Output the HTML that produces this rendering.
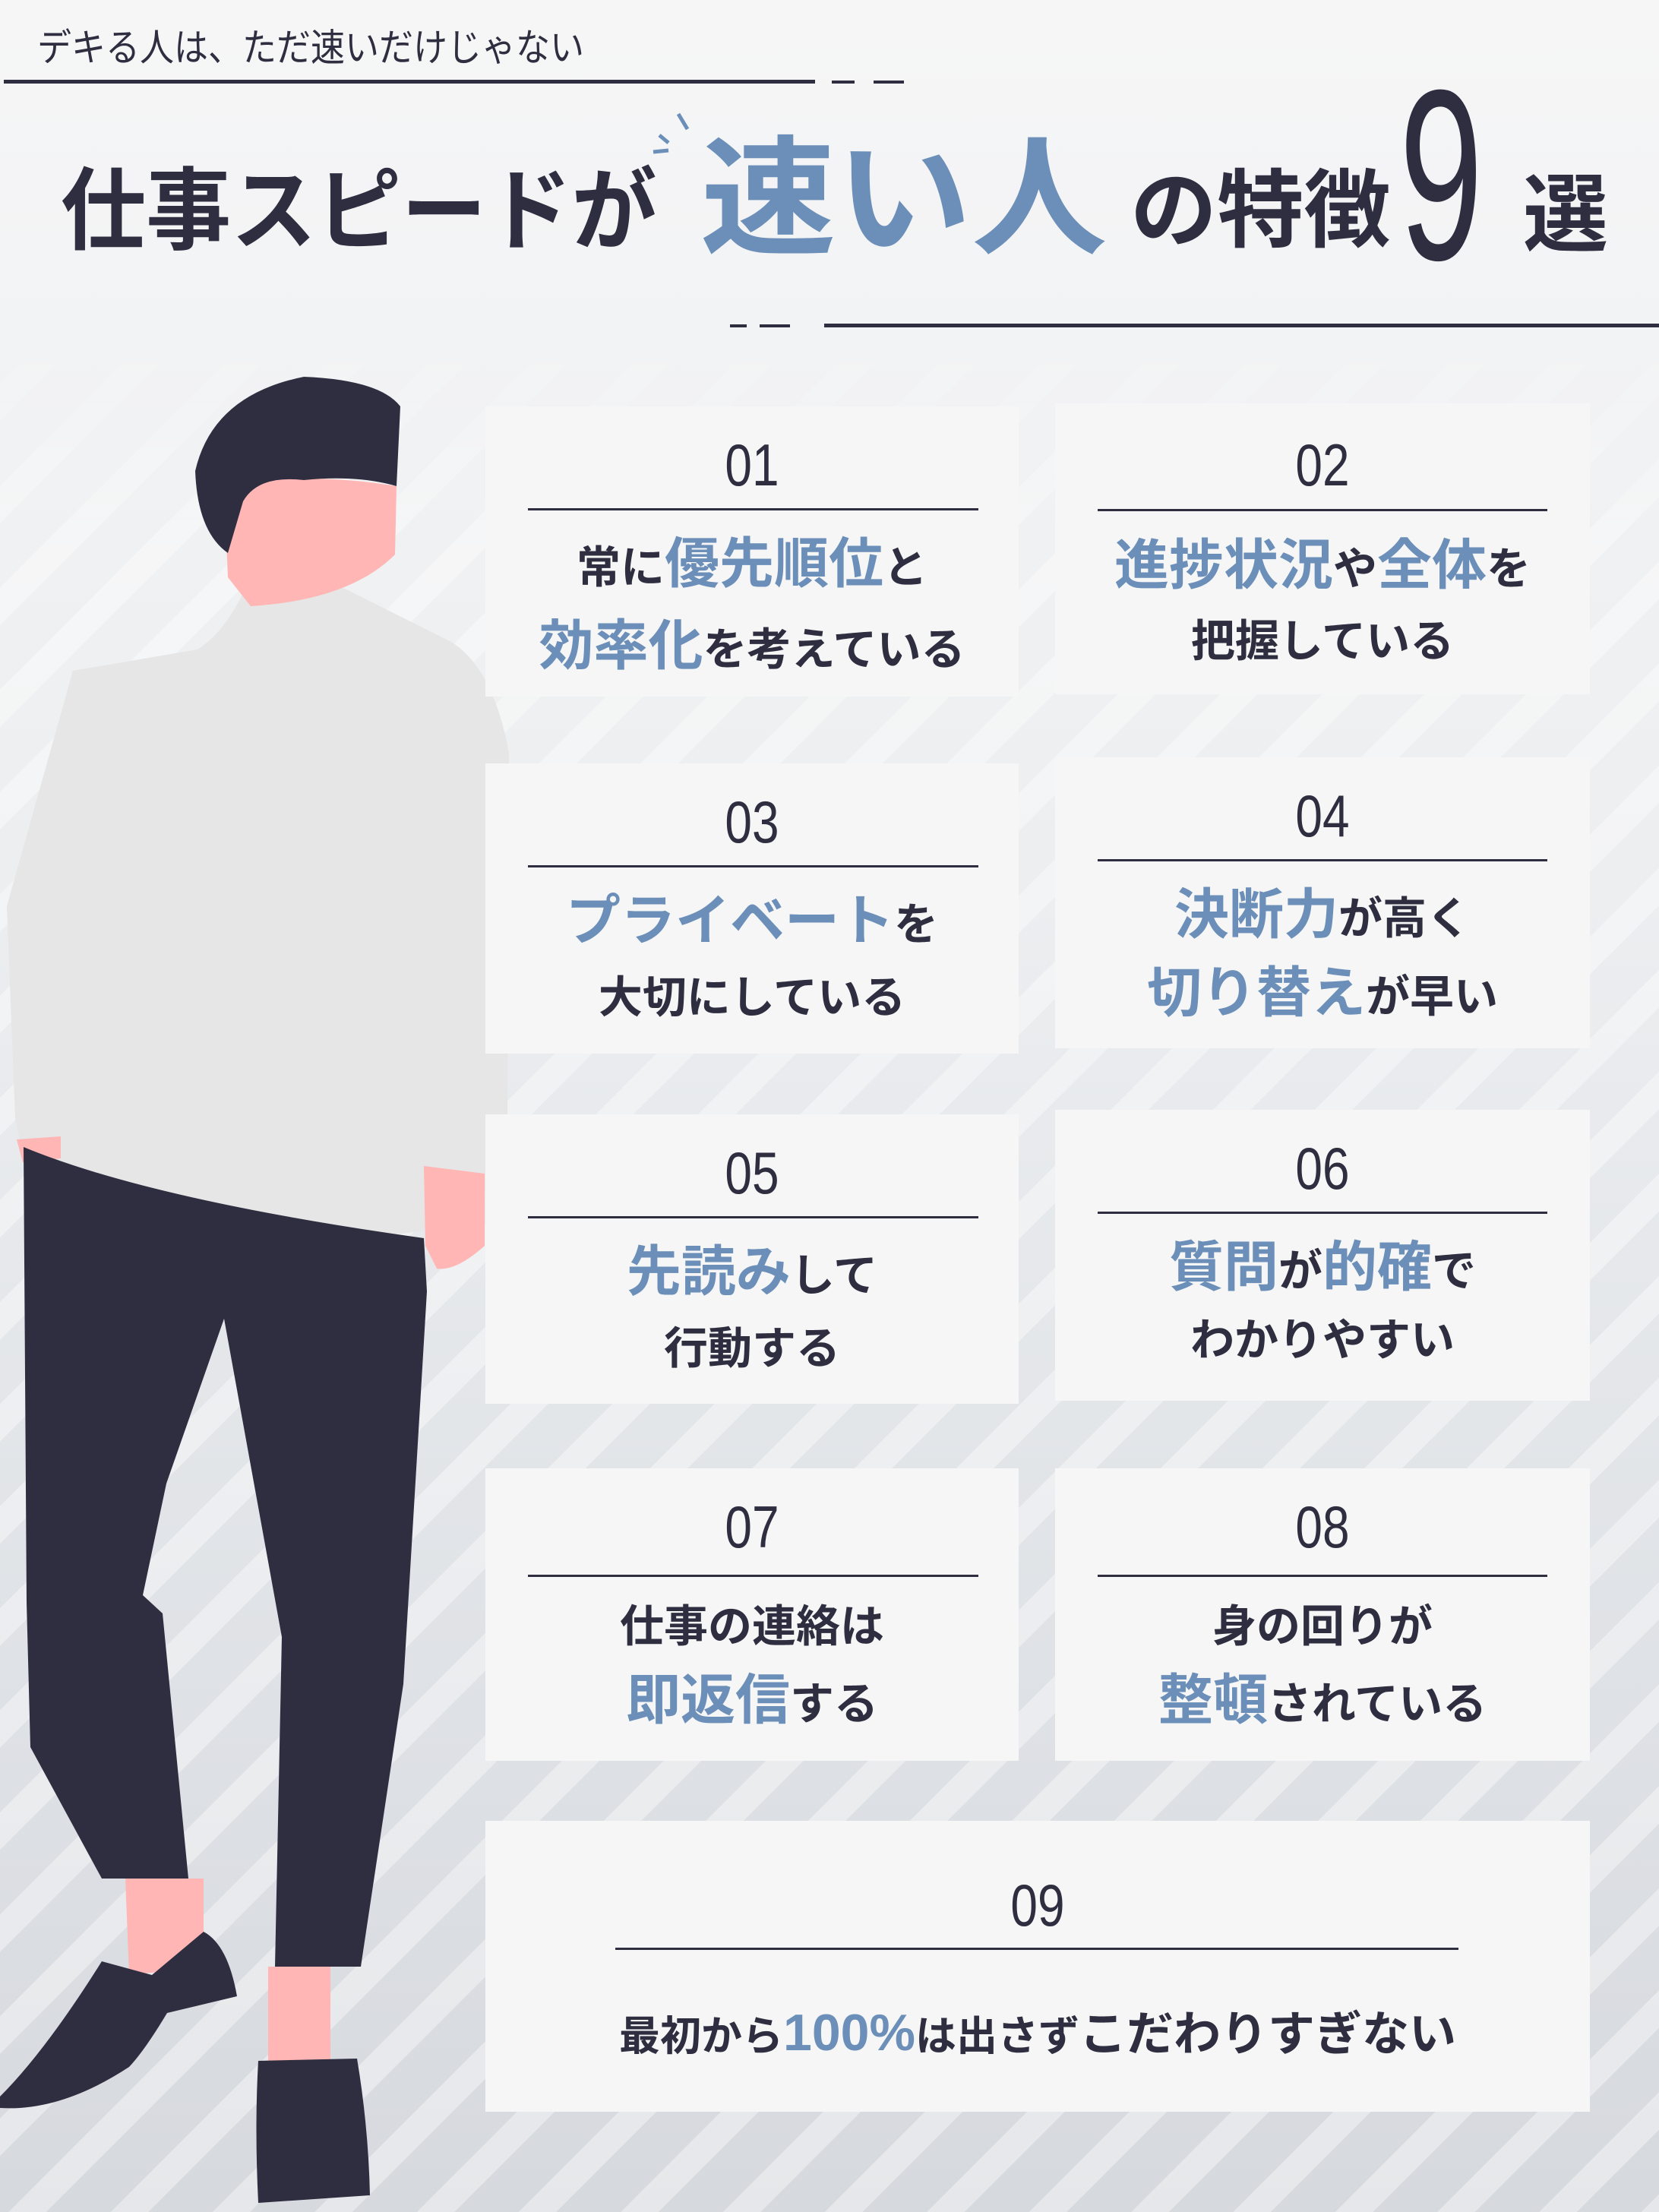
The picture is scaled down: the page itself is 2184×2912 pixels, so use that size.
<!DOCTYPE html>
<html><head><meta charset="utf-8"><style>
*{margin:0;padding:0;box-sizing:border-box}
body{width:2184px;height:2912px;position:relative;overflow:hidden;font-family:"Liberation Sans","Noto Sans CJK JP",sans-serif;background:linear-gradient(180deg,#f6f6f7 0%,#eceef0 40%,#dfe2e6 75%,#d6d9de 100%);color:#2e2e40}
.stripes{position:absolute;left:0;top:420px;width:2184px;height:2492px;background:repeating-linear-gradient(135deg,rgba(255,255,255,0) 0 60px,rgba(255,255,255,.38) 60px 95px);-webkit-mask-image:linear-gradient(180deg,transparent 0,#000 300px);mask-image:linear-gradient(180deg,transparent 0,#000 300px)}
.abs{position:absolute}
.card{position:absolute;background:#f6f6f6;text-align:center;font-weight:bold}
.num{position:absolute;left:0;right:0;font-weight:300;font-size:78px;color:#2e2e40;line-height:1;transform:scaleX(.82)}
.hr{position:absolute;height:3px;background:#2e2e40}
.ln{position:absolute;left:0;right:0;line-height:1;white-space:nowrap;font-size:58px}
.b{color:#6b8fb8;font-size:72px}
</style></head><body>
<div class="stripes"></div>

<svg class="abs" style="left:0;top:0" width="2184" height="2912" viewBox="0 0 2184 2912">
<path d="M96 883 L260 855 Q300 830 330 759 L440 768 L594 845 Q650 880 670 992 L668 1500 L640 1570 L558 1620 Q442 1640 250 1600 Q100 1580 27 1504 L20 1473 L9 1193 Z" fill="#e6e6e6"/>
<path d="M295 640 Q400 620 522 640 L520 730 Q460 790 330 798 L300 760 Z" fill="#ffb6b4"/>
<path d="M257 620 Q280 520 400 496 Q500 500 527 535 L522 640 Q470 625 400 632 Q340 625 320 660 L300 728 Q260 700 257 620 Z" fill="#2f2e41"/>
<path d="M22 1500 L80 1496 L80 1525 L30 1530 Z" fill="#ffb6b4"/>
<path d="M558 1535 L638 1545 L638 1640 Q600 1674 575 1670 L560 1640 Z" fill="#ffb6b4"/>
<path d="M31 1510 Q200 1580 558 1630 L562 1700 L531 2217 L475 2589 L362 2589 L371 2155 L295 1736 L219 1953 L188 2100 L214 2124 L248 2473 L134 2473 L40 2300 L35 2110 Z" fill="#2f2e41"/>
<path d="M165 2473 L268 2473 L268 2590 L170 2600 Z" fill="#ffb6b4"/>
<path d="M353 2589 L435 2589 L435 2729 L353 2729 Z" fill="#ffb6b4"/>
<path d="M0 2760 Q60 2700 134 2582 L200 2600 L268 2543 Q300 2560 312 2628 L220 2650 Q190 2700 170 2721 Q80 2780 0 2775 Z" fill="#2f2e41"/>
<path d="M340 2713 L470 2710 Q485 2800 487 2890 L340 2900 Q335 2800 340 2713 Z" fill="#2f2e41"/>
<rect x="5" y="105" width="1068" height="5" fill="#2e2e40"/>
<rect x="1095" y="106" width="30" height="4" fill="#2e2e40"/>
<rect x="1150" y="106" width="40" height="4" fill="#2e2e40"/>
<rect x="961" y="427" width="22" height="4" fill="#2e2e40"/>
<rect x="1000" y="427" width="40" height="4" fill="#2e2e40"/>
<rect x="1085" y="426" width="1099" height="5" fill="#2e2e40"/>
<path d="M893 150 L905 170 M868 178 L880 188 M860 200 L880 198" stroke="#6b8fb8" stroke-width="5"/>
</svg>

<div class="abs" style="left:49px;top:38px;font-size:50px;line-height:1;white-space:nowrap;transform:scaleX(.9);transform-origin:left">デキる人は、ただ速いだけじゃない</div>
<div class="abs" style="left:80px;top:220px;font-size:118px;font-weight:bold;line-height:1;white-space:nowrap;transform:scaleX(.95);transform-origin:left">仕事スピードが</div>
<div class="abs" style="left:922px;top:178px;font-size:170px;font-weight:bold;color:#6b8fb8;line-height:1;white-space:nowrap;transform:scaleX(1.05);transform-origin:left">速い人</div>
<div class="abs" style="left:1488px;top:222px;font-size:112px;font-weight:bold;line-height:1;white-space:nowrap;transform:scaleX(1.02);transform-origin:left">の特徴</div>
<div class="abs" style="left:1842px;top:70px;font-size:320px;line-height:1;font-weight:300;transform:scaleX(.62);transform-origin:left">9</div>
<div class="abs" style="left:2005px;top:228px;font-size:112px;font-weight:bold;line-height:1">選</div>

<div class="card" style="left:639px;top:535px;width:702px;height:382px"><div class="num" style="top:38px">01</div><div class="hr" style="left:56px;right:53px;top:134px"></div><div class="ln" style="top:172px">常に<span class="b">優先順位</span>と</div><div class="ln" style="top:280px"><span class="b">効率化</span>を考えている</div></div>
<div class="card" style="left:1389px;top:531px;width:704px;height:383px"><div class="num" style="top:42px">02</div><div class="hr" style="left:56px;right:56px;top:139px"></div><div class="ln" style="top:178px"><span class="b">進捗状況</span>や<span class="b">全体</span>を</div><div class="ln" style="top:285px">把握している</div></div>
<div class="card" style="left:639px;top:1005px;width:702px;height:382px"><div class="num" style="top:38px">03</div><div class="hr" style="left:56px;right:53px;top:134px"></div><div class="ln" style="top:172px"><span class="b">プライベート</span>を</div><div class="ln" style="top:280px">大切にしている</div></div>
<div class="card" style="left:1389px;top:997px;width:704px;height:383px"><div class="num" style="top:38px">04</div><div class="hr" style="left:56px;right:56px;top:134px"></div><div class="ln" style="top:172px"><span class="b">決断力</span>が高く</div><div class="ln" style="top:275px"><span class="b">切り替え</span>が早い</div></div>
<div class="card" style="left:639px;top:1467px;width:702px;height:381px"><div class="num" style="top:38px">05</div><div class="hr" style="left:56px;right:53px;top:134px"></div><div class="ln" style="top:172px"><span class="b">先読み</span>して</div><div class="ln" style="top:280px">行動する</div></div>
<div class="card" style="left:1389px;top:1461px;width:704px;height:383px"><div class="num" style="top:38px">06</div><div class="hr" style="left:56px;right:56px;top:134px"></div><div class="ln" style="top:172px"><span class="b">質問</span>が<span class="b">的確</span>で</div><div class="ln" style="top:275px">わかりやすい</div></div>
<div class="card" style="left:639px;top:1933px;width:702px;height:385px"><div class="num" style="top:38px">07</div><div class="hr" style="left:56px;right:53px;top:140px"></div><div class="ln" style="top:180px">仕事の連絡は</div><div class="ln" style="top:270px"><span class="b">即返信</span>する</div></div>
<div class="card" style="left:1389px;top:1933px;width:704px;height:385px"><div class="num" style="top:38px">08</div><div class="hr" style="left:56px;right:56px;top:140px"></div><div class="ln" style="top:180px">身の回りが</div><div class="ln" style="top:270px"><span class="b">整頓</span>されている</div></div>
<div class="card" style="left:639px;top:2397px;width:1454px;height:383px"><div class="num" style="top:72px">09</div><div class="hr" style="left:171px;right:173px;top:167px"></div><div class="ln" style="top:245px;font-size:54px">最初から<span class="b" style="font-size:68px">100%</span>は出さず<span style="font-size:62px">こだわりすぎない</span></div></div>
</body></html>
